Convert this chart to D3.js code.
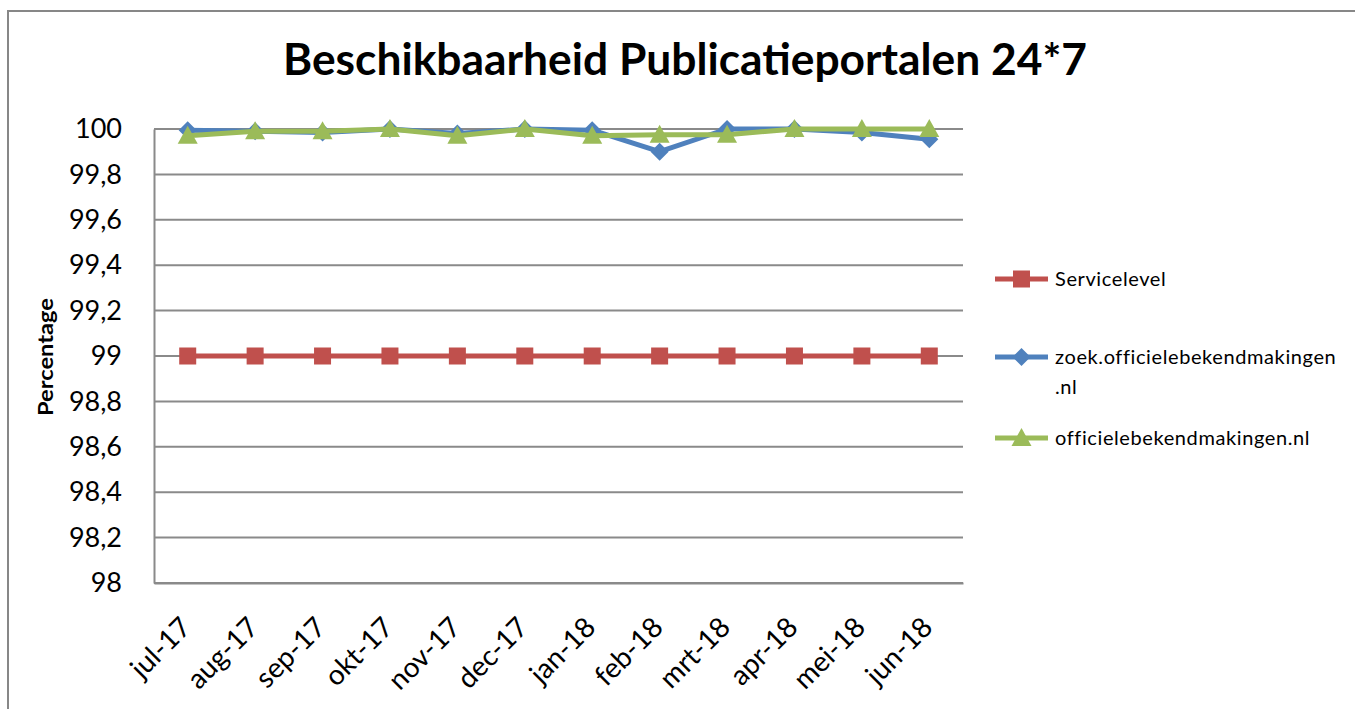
<!DOCTYPE html>
<html>
<head>
<meta charset="utf-8">
<script src="https://cdn.jsdelivr.net/npm/d3@7"></script>
<style>
  html, body { margin: 0; padding: 0; background: #fff; }
  svg { display: block; }
  text { font-family: Lato, "Open Sans", sans-serif; fill: #000; }
</style>
</head>
<body>
<svg id="chart" width="1355" height="709"></svg>
<script>
const months = ["jul-17","aug-17","sep-17","okt-17","nov-17","dec-17","jan-18","feb-18","mrt-18","apr-18","mei-18","jun-18"];
const servicelevel = [99,99,99,99,99,99,99,99,99,99,99,99];
const zoek = [99.995,99.99,99.985,100,99.98,100,99.995,99.90,100,100,99.985,99.955];
const obm = [99.97,99.99,99.99,100,99.97,100,99.97,99.975,99.975,100,100,100];
const yTicks = [98,98.2,98.4,98.6,98.8,99,99.2,99.4,99.6,99.8,100];
const seriesNames = ["Servicelevel","zoek.officielebekendmakingen\n.nl","officielebekendmakingen.nl"];

const svg = d3.select("#chart");
const plot = {left:154, right:963, top:129, bottom:583};

// outer chart border
svg.append("rect").attr("x",8).attr("y",11).attr("width",1400).attr("height",800)
  .attr("fill","#fff").attr("stroke","#878787").attr("stroke-width",2);

// title
svg.append("text").attr("x",283).attr("y",75)
  .attr("textLength",804).attr("lengthAdjust","spacingAndGlyphs")
  .style("font-size","44px").style("font-weight","bold")
  .text("Beschikbaarheid Publicatieportalen 24*7");

const x = d3.scaleBand().domain(months).range([plot.left, plot.right]);
const cx = d => x(d) + x.bandwidth()/2;
const y = d3.scaleLinear().domain([98,100]).range([plot.bottom, plot.top]);

// gridlines
svg.append("g").selectAll("line").data(yTicks).join("line")
  .attr("x1",plot.left).attr("x2",plot.right)
  .attr("y1",d=>y(d)).attr("y2",d=>y(d))
  .attr("stroke","#8a8a8a").attr("stroke-width",2);

// y axis
const yAxis = svg.append("g").attr("transform",`translate(${plot.left},0)`)
  .call(d3.axisLeft(y).tickValues(yTicks).tickSize(0).tickPadding(32)
    .tickFormat(d => d3.format("~g")(d).replace(".",",")));
yAxis.select(".domain").attr("stroke","#8a8a8a").attr("stroke-width",2);
yAxis.selectAll("text").style("font-size","27px").style("font-family","Lato, sans-serif").attr("fill","#000");

// x axis
const xAxis = svg.append("g").attr("transform",`translate(0,${plot.bottom})`)
  .call(d3.axisBottom(x).tickSize(0).tickFormat(d=>d));
xAxis.select(".domain").attr("stroke","#8a8a8a").attr("stroke-width",2);
xAxis.selectAll("text")
  .style("font-size","28px").style("font-family","Lato, sans-serif").attr("fill","#000")
  .attr("text-anchor","end").attr("dy",null).attr("y",0)
  .attr("transform","translate(5,46) rotate(-45)");

// y axis title
svg.append("text").attr("transform","translate(53,357) rotate(-90)")
  .attr("text-anchor","middle").style("font-size","21px").style("font-weight","bold")
  .attr("textLength",118).attr("lengthAdjust","spacingAndGlyphs")
  .text("Percentage");

const colors = ["#C0504D","#4F81BD","#9BBB59"];
const data = [servicelevel, zoek, obm];
const line = d3.line().x((d,i)=>cx(months[i])).y(d=>y(d));

function marker(g, type, color, px, py) {
  if (type===0) {
    g.append("rect").attr("x",px-8.5).attr("y",py-8.5).attr("width",17).attr("height",17)
      .attr("fill",color);
  } else if (type===1) {
    g.append("path").attr("d",`M${px},${py-9}L${px+9},${py}L${px},${py+9}L${px-9},${py}Z`).attr("fill",color);
  } else {
    g.append("path").attr("d",`M${px},${py-10}L${px+10},${py+8}L${px-10},${py+8}Z`).attr("fill",color);
  }
}

data.forEach((vals, s) => {
  const g = svg.append("g");
  g.append("path").datum(vals).attr("d",line).attr("fill","none")
    .attr("stroke",colors[s]).attr("stroke-width",5).attr("stroke-linejoin","round");
  vals.forEach((v,i)=> marker(g, s, colors[s], cx(months[i]), y(v)));
});

// legend
const legY = [279, 357, 438];
seriesNames.forEach((name, s) => {
  const g = svg.append("g");
  g.append("line").attr("x1",995).attr("x2",1048).attr("y1",legY[s]).attr("y2",legY[s])
    .attr("stroke",colors[s]).attr("stroke-width",5);
  marker(g, s, colors[s], 1021.5, legY[s]);
  const t = g.append("text").attr("x",1055).attr("y",legY[s]+7)
    .style("font-size","20px").style("letter-spacing","0.6px");
  name.split("\n").forEach((part, k) => {
    t.append("tspan").attr("x",1055).attr("dy", k===0 ? 0 : 30).text(part);
  });
});
</script>
</body>
</html>
